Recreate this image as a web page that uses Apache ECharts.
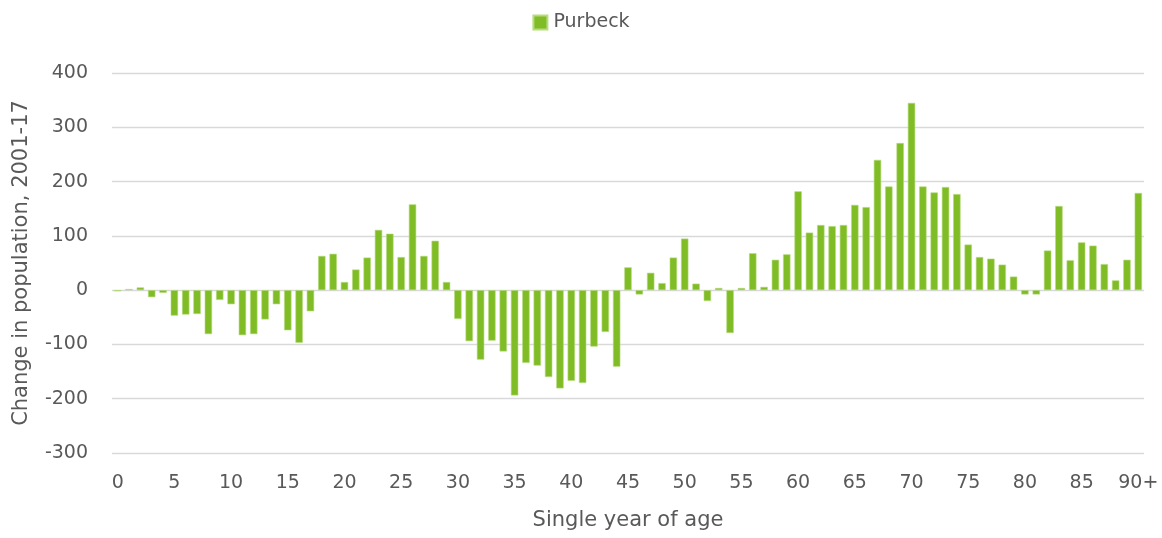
<!DOCTYPE html>
<html><head><meta charset="utf-8">
<script src="https://cdn.jsdelivr.net/npm/echarts@6/dist/echarts.min.js"></script>
<style>html,body{margin:0;padding:0;background:#fff}#c{width:1162px;height:538px}</style>
</head><body><div id="c"></div>
<script>
const categories = [];
for (let i = 0; i < 90; i++) categories.push(String(i));
categories.push('90+');
const seriesName = 'Purbeck';
const values = [
  -2, 2, 5, -13, -5, -47, -45, -44, -81, -18,
  -26, -83, -81, -54, -26, -74, -97, -39, 63, 67,
  15, 38, 60, 111, 104, 61, 158, 63, 91, 15,
  -53, -94, -128, -93, -113, -194, -134, -139, -160, -181,
  -167, -171, -104, -77, -141, 42, -8, 32, 13, 60,
  95, 12, -20, 4, -79, 4, 68, 6, 56, 66,
  182, 106, 120, 118, 120, 157, 153, 240, 191, 271,
  345, 191, 180, 190, 177, 84, 61, 58, 47, 25,
  -8, -8, 73, 155, 55, 88, 82, 48, 18, 56,
  179
];
const yMin = -300, yMax = 400, yStep = 100;
const xTitle = 'Single year of age';
const yTitle = 'Change in population, 2001-17';

const font = '"DejaVu Sans", sans-serif';
const chart = echarts.init(document.getElementById('c'), null, {renderer: 'canvas'});
chart.setOption({
  animation: false,
  textStyle: {fontFamily: font},
  legend: {
    top: 8, left: 'center',
    itemWidth: 14, itemHeight: 14, itemGap: 10,
    textStyle: {fontSize: 19, color: '#595959', fontFamily: font, padding: [0, 0, 0, 1]},
    data: [{name: seriesName, icon: 'rect'}]
  },
  grid: {left: 112, right: 18, top: 73, bottom: 85, containLabel: false},
  xAxis: {
    type: 'category', data: categories,
    axisLine: {show: false}, axisTick: {show: false},
    axisLabel: {interval: 4, fontSize: 19, color: '#595959', margin: 21, fontFamily: font},
    name: xTitle, nameLocation: 'middle', nameGap: 57,
    nameTextStyle: {fontSize: 21, color: '#595959', fontFamily: font}
  },
  yAxis: {
    type: 'value', min: yMin, max: yMax, interval: yStep,
    axisLine: {show: false}, axisTick: {show: false},
    splitLine: {lineStyle: {color: '#d9d9d9', width: 1.3}},
    axisLabel: {fontSize: 19, color: '#595959', margin: 24, fontFamily: font},
    name: yTitle, nameLocation: 'middle', nameGap: 80, nameRotate: 90,
    nameTextStyle: {fontSize: 21, color: '#595959', fontFamily: font}
  },
  series: [{
    name: seriesName, type: 'bar', data: values,
    barCategoryGap: '35%',
    itemStyle: {color: '#80bc25', borderColor: '#b5dc7d', borderWidth: 0.6}
  }]
});
</script></body></html>
